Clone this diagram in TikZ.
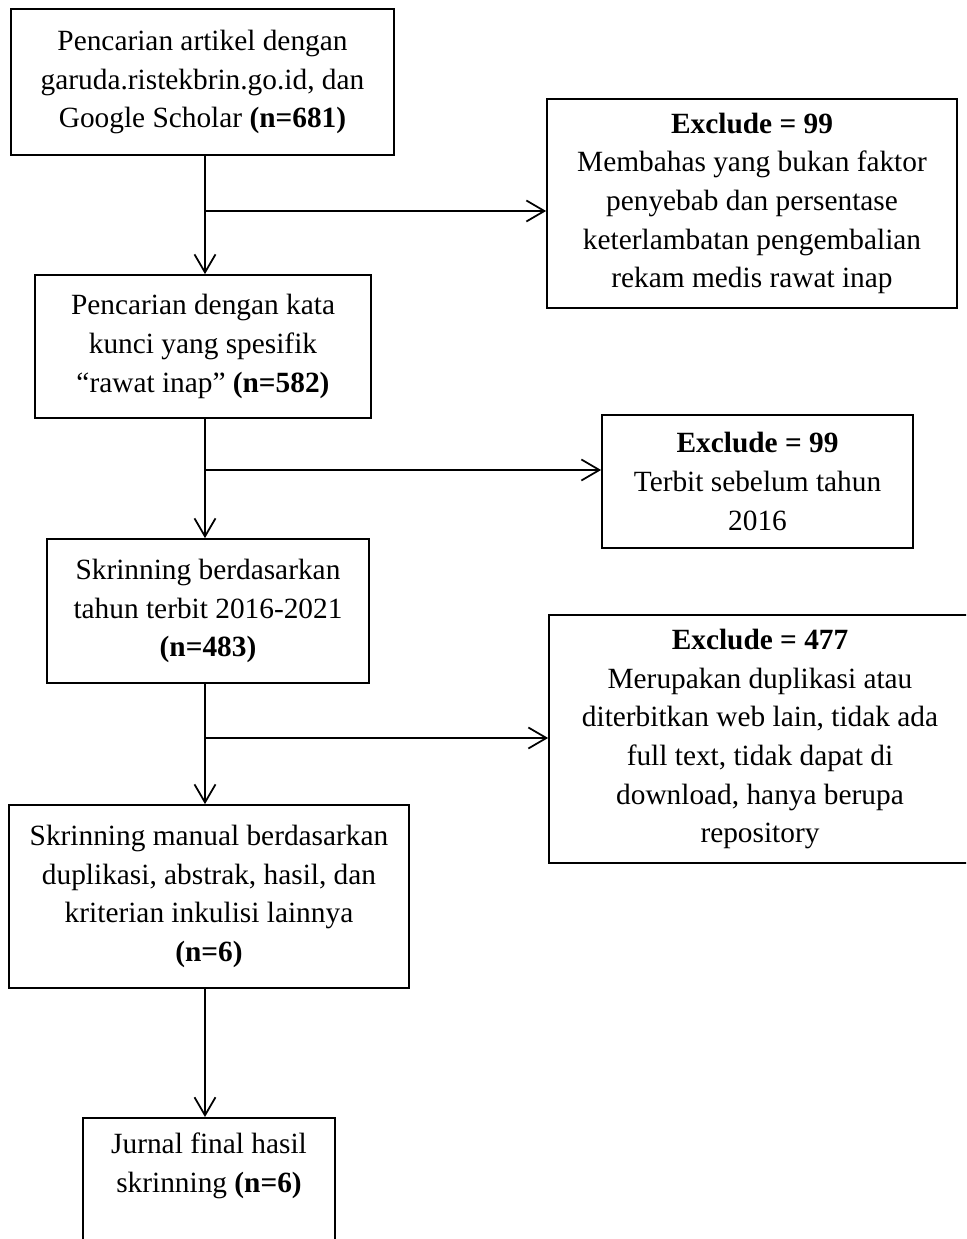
\documentclass[tikz,border=0pt]{standalone}
\usepackage{fontspec}
\setmainfont{Liberation Serif}
\usetikzlibrary{arrows.meta}

\begin{document}
\begin{tikzpicture}[
    box/.style={draw, line width=1pt, align=center, inner sep=0pt,
        font=\fontsize{16.7}{22}\selectfont},
    arr/.style={line width=1pt, -{Straight Barb[length=0.36cm, width=0.42cm, line width=1pt]}}
]

\useasboundingbox (0,0) rectangle (19.32,-24.78);
\clip (0,0) rectangle (19.32,-24.78);

\node[box, minimum width=7.66cm, minimum height=2.92cm] (cari) at (4.05,-1.64)
    {Pencarian artikel dengan\\ garuda.ristekbrin.go.id, dan\\ Google Scholar \textbf{(n=681)}};
\node[box, minimum width=8.2cm, minimum height=4.18cm] (exsatu) at (15.04,-4.07)
    {\textbf{Exclude = 99}\\ Membahas yang bukan faktor\\ penyebab dan persentase\\ keterlambatan pengembalian\\ rekam medis rawat inap};

\node[box, minimum width=6.72cm, minimum height=2.86cm] (kunci) at (4.06,-6.93)
    {Pencarian dengan kata\\ kunci yang spesifik\\ “rawat inap” \textbf{(n=582)}};
\node[box, minimum width=6.22cm, minimum height=2.66cm] (exdua) at (15.15,-9.63)
    {\textbf{Exclude = 99}\\ Terbit sebelum tahun\\ 2016};

\node[box, minimum width=6.44cm, minimum height=2.88cm] (tahun) at (4.16,-12.22)
    {Skrinning berdasarkan\\ tahun terbit 2016-2021\\ \textbf{(n=483)}};
\node[box, minimum width=8.44cm, minimum height=4.96cm] (extiga) at (15.2,-14.78)
    {\textbf{Exclude = 477}\\ Merupakan duplikasi atau\\ diterbitkan web lain, tidak ada\\ full text, tidak dapat di\\ download, hanya berupa\\ repository};

\node[box, minimum width=8cm, minimum height=3.66cm] (manual) at (4.18,-17.93)
    {Skrinning manual berdasarkan\\ duplikasi, abstrak, hasil, dan\\ kriterian inkulisi lainnya\\ \textbf{(n=6)}};

\node[box, minimum width=5.04cm, anchor=north, inner ysep=0.3cm] (final) at (4.18,-22.34)
    {Jurnal final hasil\\ skrinning \textbf{(n=6)}\\ \mbox{}\\ \mbox{}};

\coordinate (jsatu) at (4.1,-4.22);
\coordinate (jdua) at (4.1,-9.4);
\coordinate (jtiga) at (4.1,-14.76);

\draw[arr] (cari.south -| jsatu) -- (kunci.north -| jsatu);
\draw[arr] (jsatu) -- (jsatu -| exsatu.west);

\draw[arr] (kunci.south -| jdua) -- (tahun.north -| jdua);
\draw[arr] (jdua) -- (jdua -| exdua.west);

\draw[arr] (tahun.south -| jtiga) -- (manual.north -| jtiga);
\draw[arr] (jtiga) -- (jtiga -| extiga.west);

\draw[arr] (manual.south -| jtiga) -- (final.north -| jtiga);
\end{tikzpicture}
\end{document}
